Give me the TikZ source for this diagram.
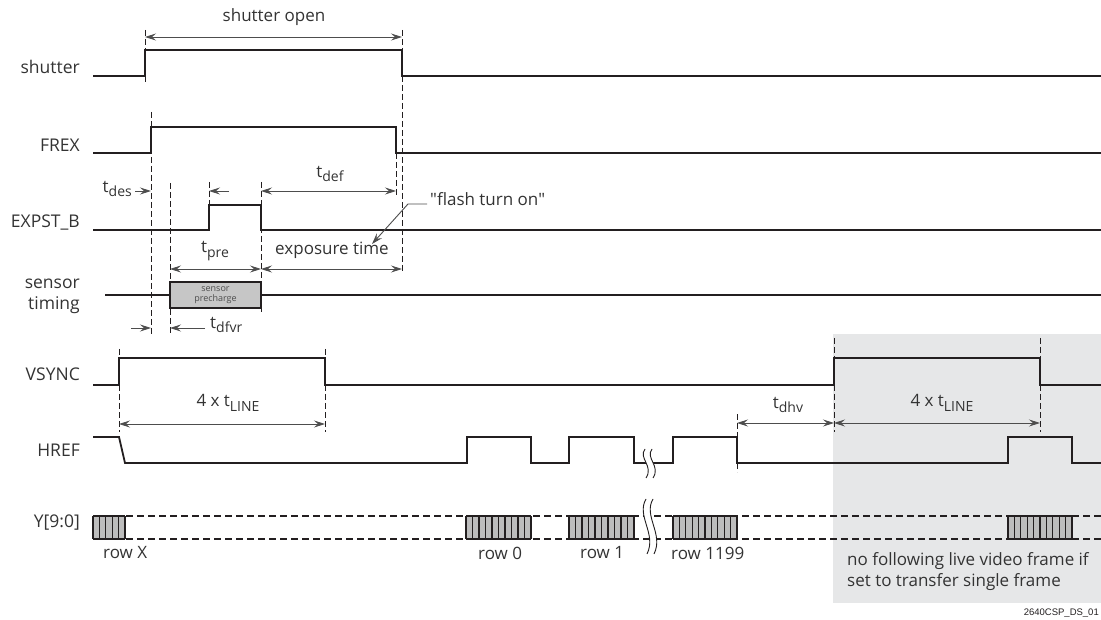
\documentclass[tikz,border=0pt]{standalone}
\usepackage{fontspec}
\setmainfont{Open Sans}
\newfontfamily\tagfont{Liberation Sans}
\usetikzlibrary{arrows.meta}
\definecolor{sigc}{HTML}{231F20}
\definecolor{textc}{HTML}{333333}
\definecolor{dimc}{HTML}{4D4D4D}
\definecolor{shadegray}{HTML}{E6E7E8}
\definecolor{boxc}{HTML}{C6C6C6}
\definecolor{datac}{HTML}{BDBDBD}
\newcommand\lowtxt[1]{\raisebox{-0.5ex}{\fontsize{14}{14}\selectfont #1}}
\tikzset{
  tip/.tip={Stealth[length=11pt,width=7pt,inset=4pt]},
  sig/.style={line width=1.8pt, draw=sigc, line join=miter},
  dimline/.style={line width=0.9pt, draw=dimc},
  dd/.style={dimline, tip-tip},
  dr/.style={dimline, -tip},
  guide/.style={line width=0.8pt, draw=sigc, dash pattern=on 6pt off 3pt},
  lab/.style={font=\fontsize{17}{20}\selectfont, text=textc, inner sep=0pt},
  siglab/.style={lab, font=\fontsize{17.5}{21}\selectfont, anchor=east, align=right},
  datadash/.style={line width=1.4pt, draw=sigc, dash pattern=on 7pt off 4pt},
}
\begin{document}
\begin{tikzpicture}[x=1pt,y=-1pt]
\useasboundingbox (0,0) rectangle (1101,620);
\fill[shadegray] (833,334) rectangle (1101,603);

% signal labels
\node[siglab] (Lsh) at (80,67) {shutter};
\node[siglab] (Lfx) at (80,145) {FREX};
\node[siglab] (Lex) at (80,223) {EXPST\_B};
\node[siglab] (Lst) at (80,296) {sensor\\timing};
\node[siglab] (Lvs) at (80,374) {VSYNC};
\node[siglab] (Lhr) at (80,450) {HREF};
\node[siglab] (Ly) at (80,523) {Y[9:0]};

% guide lines
\draw[guide] (145,30) -- (145,50) (145,76) -- (145,84);
\draw[guide] (402,30) -- (402,50) (402,76) -- (402,273);
\draw[guide] (151,112) -- (151,334);
\draw[guide] (396,153) -- (396,197);
\draw[guide] (170,183) -- (170,334);
\draw[guide] (209,182) -- (209,205);
\draw[guide] (261,182) -- (261,312);
\foreach \x in {119,325} {\draw[guide] (\x,349) -- (\x,358) (\x,385) -- (\x,432);}
\foreach \x in {834,1040} {\draw[guide] (\x,338) -- (\x,358) (\x,385) -- (\x,432);}
\draw[guide] (737,414) -- (737,437) (737,463) -- (737,472);

% signals
\draw[sig] (93,76) -- (145,76) -- (145,50) -- (402,50) -- (402,76) -- (1101,76);
\draw[sig] (93,153) -- (151,153) -- (151,127) -- (396,127) -- (396,153) -- (1101,153);
\draw[sig] (93,230) -- (209,230) -- (209,205) -- (261,205) -- (261,230) -- (1101,230);
\draw[sig] (105,295) -- (170,295) (261,295) -- (1101,295);
\node[draw=sigc, line width=1.8pt, fill=boxc, minimum width=91pt, minimum height=26pt, inner sep=0pt,
      font=\fontsize{9}{9.5}\selectfont, text=dimc, align=center] (pre) at (215.5,295) {sensor\\precharge};
\draw[sig] (93,385) -- (119,385) -- (119,358) -- (325,358) -- (325,385) -- (834,385) -- (834,358) -- (1040,358) -- (1040,385) -- (1101,385);
\draw[sig] (93,437) -- (119,437) -- (125,463) -- (467,463) -- (467,437) -- (531,437) -- (531,463) -- (569,463) -- (569,437) -- (634,437) -- (634,463) -- (673,463) -- (673,437) -- (737,437) -- (737,463) -- (1008,463) -- (1008,437) -- (1072,437) -- (1072,463) -- (1101,463);

% data bus
\draw[datadash] (93,516) -- (1101,516);
\draw[datadash] (93,539) -- (1101,539);
\foreach \a/\b/\n in {93/125/5, 466/531/10, 569/634/10, 673/737/10, 1008/1072/10} {
  \fill[datac] (\a,516) rectangle (\b,539);
  \pgfmathsetmacro\w{(\b-\a)/\n}
  \foreach \k in {0,...,\n} {\draw[line width=1.1pt, sigc] ({\a+\k*\w},516) -- ({\a+\k*\w},539);}
  \draw[line width=1.4pt, sigc] (\a,516) -- (\b,516) (\a,539) -- (\b,539);
}

% break marks
\fill[white] (645,449) .. controls (638,458) and (654,466) .. (646,478) -- (653,478) .. controls (661,466) and (645,458) .. (652,449) -- cycle;
\draw[line width=0.9pt, sigc] (645,449) .. controls (638,458) and (654,466) .. (646,478);
\draw[line width=0.9pt, sigc] (652,449) .. controls (645,458) and (661,466) .. (653,478);
\fill[white] (646,499) .. controls (636,516) and (657,534) .. (647,554) -- (654,554) .. controls (664,534) and (643,516) .. (653,499) -- cycle;
\draw[line width=0.9pt, sigc] (646,499) .. controls (636,516) and (657,534) .. (647,554);
\draw[line width=0.9pt, sigc] (653,499) .. controls (643,516) and (664,534) .. (654,554);

% dimension arrows and texts
\coordinate (so1) at (145,37); \coordinate (so2) at (402,37);
\draw[dd] (so1) -- (so2);
\node[lab] (tso) at (274,17) {shutter open};

\coordinate (des0) at (135,191); \coordinate (des1) at (151,191);
\draw[dr] (des0) -- (des1);
\node[lab, anchor=east] (tdes) at (132,189) {t\lowtxt{des}};

\coordinate (ex0) at (229,191); \coordinate (ex1) at (209,191);
\draw[dr] (ex0) -- (ex1);
\coordinate (df0) at (261,191); \coordinate (df1) at (396,191);
\draw[dd] (df0) -- (df1);
\node[lab] (tdef) at (330,174) {t\lowtxt{def}};

\node[lab, anchor=west] (flash) at (430,199) {\textquotedbl flash turn on\textquotedbl};
\coordinate (fl0) at (427,204); \coordinate (fl1) at (408,204); \coordinate (fl2) at (372,244);
\draw[dr] (fl0) -- (fl1) -- (fl2);

\node[lab] (tpre) at (215,251) {t\lowtxt{pre}};
\node[lab] (texp) at (332,250) {exposure time};
\coordinate (p0) at (170,269); \coordinate (p1) at (261,269); \coordinate (p2) at (402,269);
\draw[dd] (p0) -- (p1);
\draw[dd] (p1) -- (p2);

\coordinate (v0) at (131,328); \coordinate (v1) at (151,328);
\draw[dr] (v0) -- (v1);
\coordinate (v2) at (205,328); \coordinate (v3) at (170,328);
\draw[dr] (v2) -- (v3);
\node[lab, anchor=west] (tdfvr) at (210,325) {t\lowtxt{dfvr}};

\coordinate (l0) at (119,424); \coordinate (l1) at (325,424);
\draw[dd] (l0) -- (l1);
\node[lab] (tl1) at (228,403) {4 x t\lowtxt{LINE}};

\coordinate (h0) at (737,423); \coordinate (h1) at (834,423); \coordinate (h2) at (1040,423);
\draw[dd] (h0) -- (h1);
\draw[dd] (h1) -- (h2);
\node[lab] (tdhv) at (788,405) {t\lowtxt{dhv}};
\node[lab] (tl2) at (942,403) {4 x t\lowtxt{LINE}};

% row labels
\node[lab, anchor=west] (rX) at (103,553) {row X};
\node[lab, anchor=west] (r0) at (478,553) {row 0};
\node[lab, anchor=west] (r1) at (580,553) {row 1};
\node[lab, anchor=west] (r1199) at (671,553) {row 1199};
\node[lab, anchor=west, align=left, font=\fontsize{17}{21}\selectfont] (note) at (847,572) {no following live video frame if\\set to transfer single frame};
\node[anchor=east, inner sep=0pt, font=\tagfont\fontsize{9.5}{9.5}\selectfont, text=sigc] (tag) at (1099,613) {2640CSP\_DS\_01};
\end{tikzpicture}
\end{document}
